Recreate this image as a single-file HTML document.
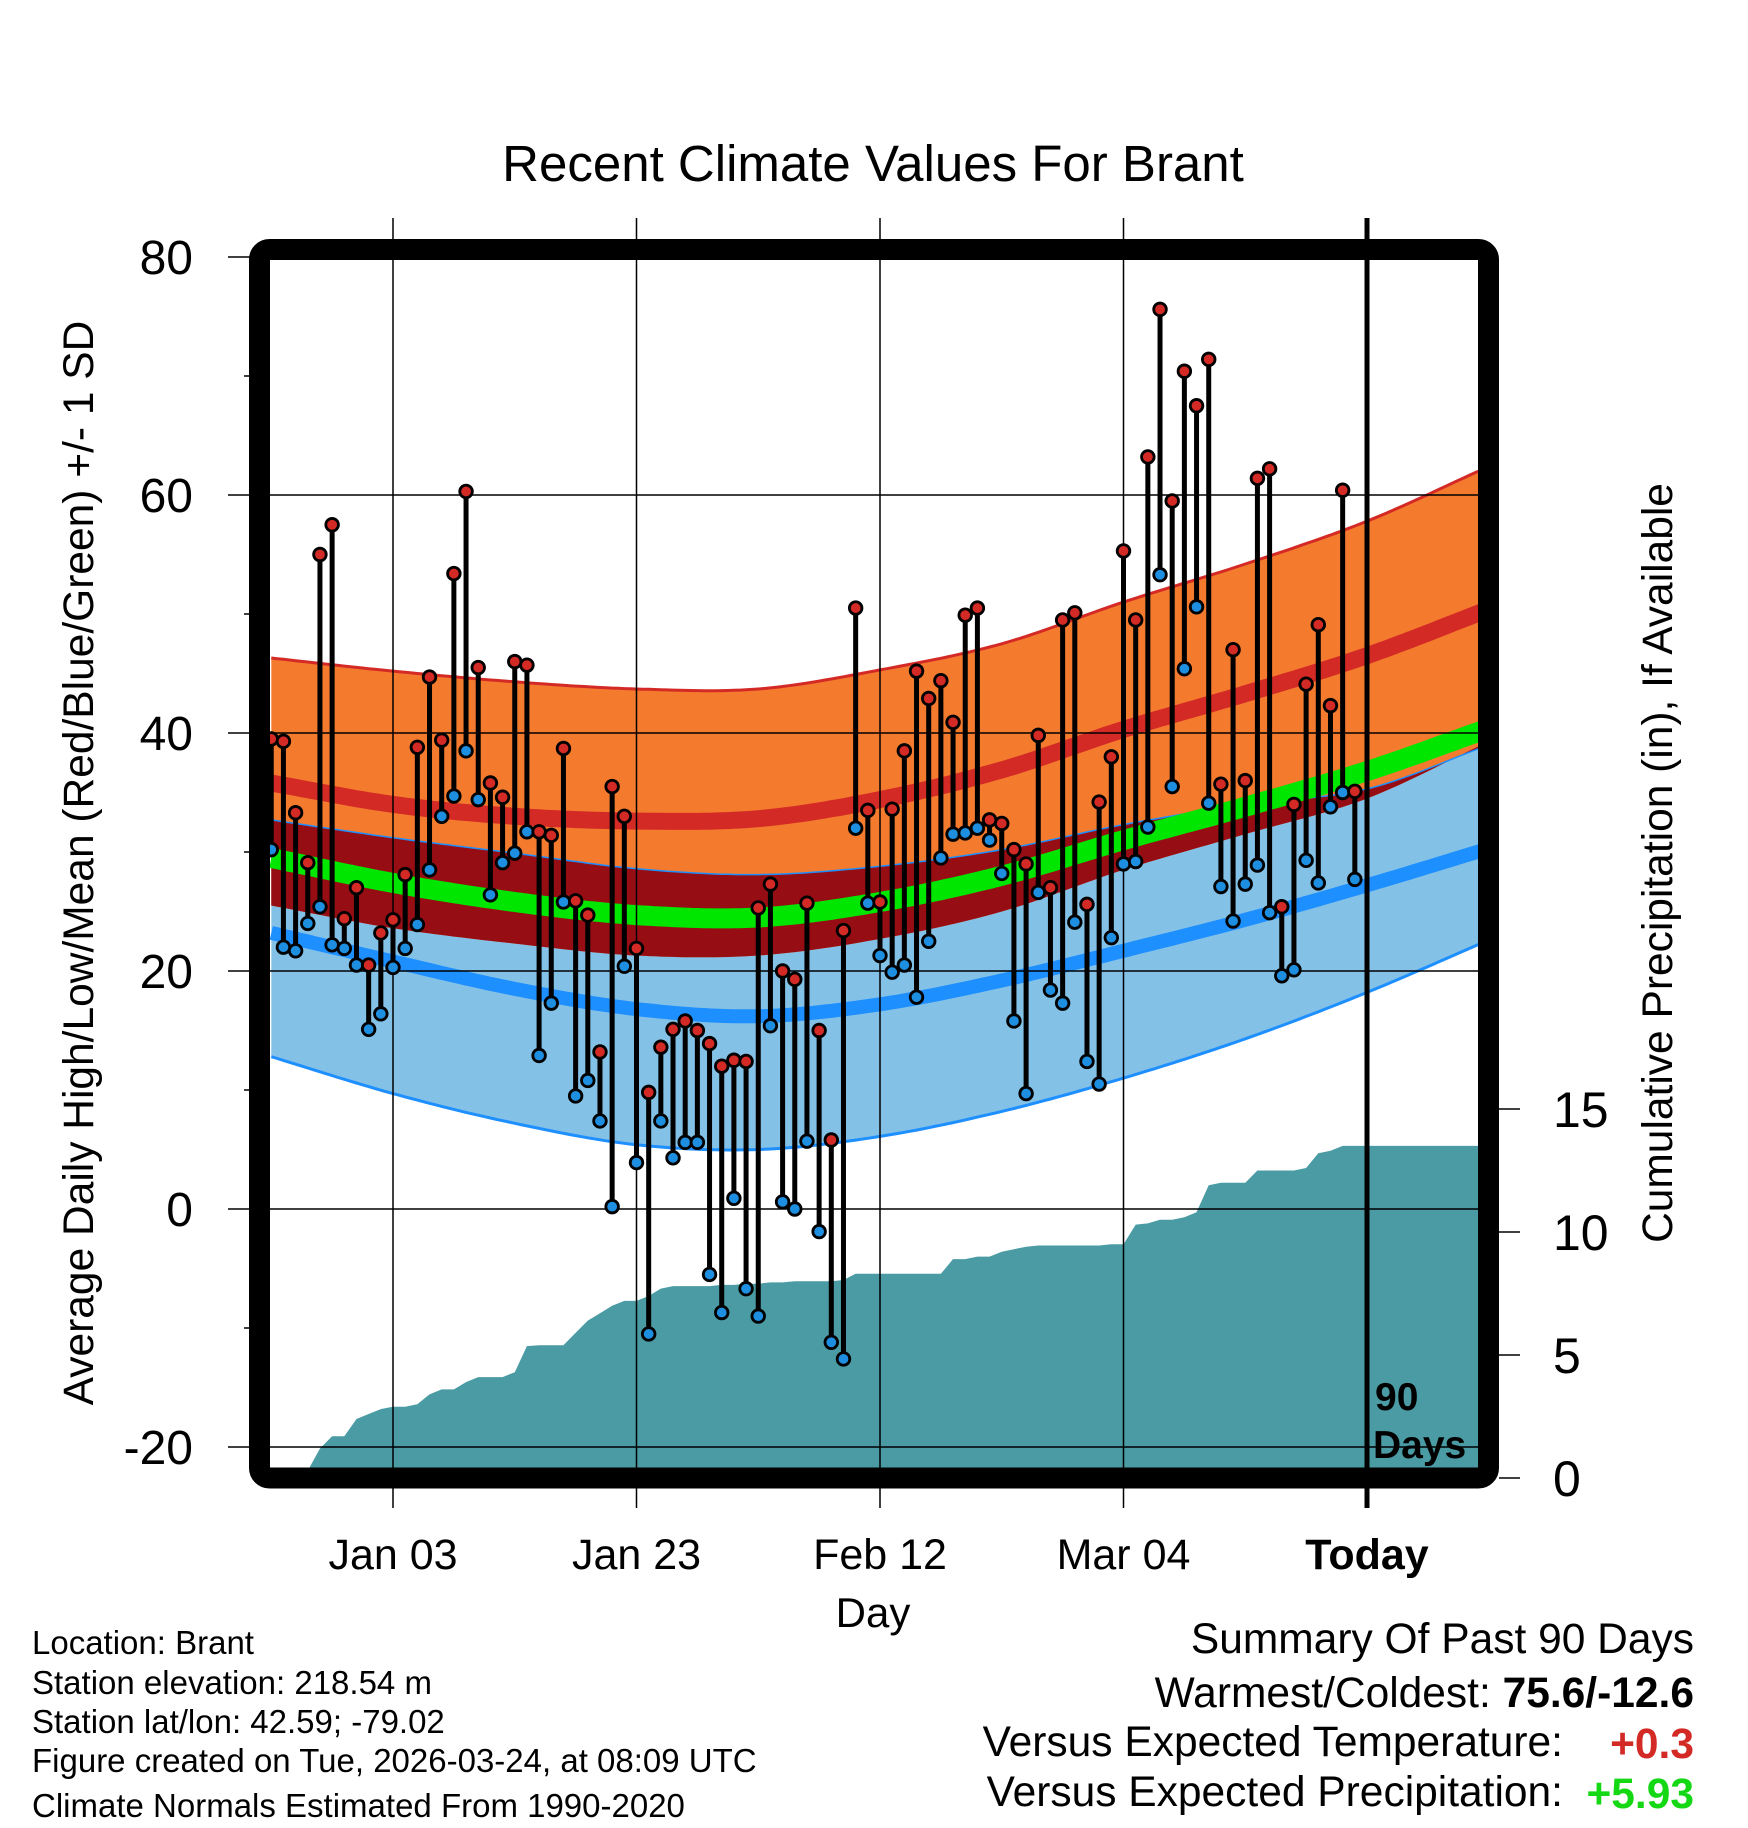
<!DOCTYPE html>
<html><head><meta charset="utf-8">
<style>
html,body{margin:0;padding:0;background:#fff;}
svg{display:block;font-family:"Liberation Sans",sans-serif;}
</style></head>
<body>
<svg id="chart" width="1748" height="1828" viewBox="0 0 1748 1828" xmlns="http://www.w3.org/2000/svg">
<text x="873" y="181" font-size="51" text-anchor="middle">Recent Climate Values For Brant</text>
<g id="plot"></g>
<text transform="translate(93,863) rotate(-90)" font-size="42.5" text-anchor="middle">Average Daily High/Low/Mean (Red/Blue/Green) +/- 1 SD</text>
<text transform="translate(1672,863) rotate(-90)" font-size="42.5" text-anchor="middle">Cumulative Precipitation (in), If Available</text>
<text x="873" y="1627" font-size="42" text-anchor="middle">Day</text>
<g font-size="33">
<text x="32" y="1654">Location: Brant</text>
<text x="32" y="1694">Station elevation: 218.54 m</text>
<text x="32" y="1733">Station lat/lon: 42.59; -79.02</text>
<text x="32" y="1772">Figure created on Tue, 2026-03-24, at 08:09 UTC</text>
<text x="32" y="1817">Climate Normals Estimated From 1990-2020</text>
</g>
<g font-size="42.5" text-anchor="end">
<text x="1694" y="1653">Summary Of Past 90 Days</text>
<text x="1694" y="1707">Warmest/Coldest: <tspan font-weight="bold">75.6/-12.6</tspan></text>
<text x="1563" y="1756">Versus Expected Temperature:</text>
<text x="1694" y="1758" font-weight="bold" fill="#d42a26">+0.3</text>
<text x="1563" y="1806">Versus Expected Precipitation:</text>
<text x="1694" y="1808" font-weight="bold" fill="#14d814">+5.93</text>
</g>
</svg>
<script>
// ---- data ----
const highs = [39.5,39.3,33.3,29.1,55,57.5,24.4,27,20.5,23.2,24.3,28.1,38.8,44.7,39.4,53.4,60.3,45.5,35.8,34.6,46,45.7,31.7,31.4,38.7,25.9,24.7,13.2,35.5,33,21.9,9.8,13.6,15.1,15.8,15,13.9,12,12.5,12.4,25.3,27.3,20,19.3,25.7,15,5.8,23.4,50.5,33.5,25.8,33.6,38.5,45.2,42.9,44.4,40.9,49.9,50.5,32.7,32.4,30.2,29,39.8,27,49.5,50.1,25.6,34.2,38,55.3,49.5,63.2,75.6,59.5,70.4,67.5,71.4,35.7,47,36,61.4,62.2,25.4,34,44.1,49.1,42.3,60.4,35.1];
const lows = [30.2,22,21.7,24,25.4,22.2,21.9,20.5,15.1,16.4,20.3,21.9,23.9,28.5,33,34.7,38.5,34.4,26.4,29.1,29.9,31.7,12.9,17.3,25.8,9.5,10.8,7.4,0.2,20.4,3.9,-10.5,7.4,4.3,5.6,5.6,-5.5,-8.7,0.9,-6.7,-9,15.4,0.6,0,5.7,-1.9,-11.2,-12.6,32,25.7,21.3,19.9,20.5,17.8,22.5,29.5,31.5,31.6,32,31,28.2,15.8,9.7,26.6,18.4,17.3,24.1,12.4,10.5,22.8,29,29.2,32.1,53.3,35.5,45.4,50.6,34.1,27.1,24.2,27.3,28.9,24.9,19.6,20.1,29.3,27.4,33.8,35,27.7];
const precip = [0,0,0.3,0.3,1.2,1.7,1.7,2.4,2.6,2.8,2.9,2.9,3.0,3.4,3.6,3.6,3.9,4.1,4.1,4.1,4.3,5.36,5.4,5.4,5.4,5.9,6.4,6.7,7.0,7.2,7.2,7.4,7.7,7.8,7.8,7.8,7.8,7.85,7.85,7.9,7.9,7.95,7.95,8.0,8.0,8.0,8.0,8.05,8.3,8.3,8.3,8.3,8.3,8.3,8.3,8.3,8.9,8.9,9.0,9.0,9.2,9.3,9.4,9.45,9.45,9.45,9.45,9.45,9.45,9.5,9.5,10.3,10.35,10.5,10.5,10.6,10.8,11.9,12.0,12.0,12.0,12.5,12.5,12.5,12.5,12.6,13.2,13.3,13.5,13.5];
const normDays = [-90,-80,-70,-60,-50,-40,-30,-20,-10,0,10];
const hiUpper = [46.3,45.2,44.3,43.7,43.7,45.3,47.5,51,54.2,57.8,62.4];
const hiMean  = [35.8,34.0,33.0,32.6,32.8,34.4,36.9,40.3,43.3,46.5,50.4];
const hiLower = [25.5,23.6,22.3,21.3,21.3,22.7,25,28.5,31.5,34.5,39.3];
const loUpper = [32.7,31.2,29.9,28.6,28.1,28.8,30.2,32.3,34.0,35.3,39.0];
const loMean  = [23.2,20.8,18.5,16.8,16.2,17.2,19.2,21.7,24.3,27.2,30.3];
const loLower = [12.8,9.7,7.2,5.4,5.0,6.1,8.2,11,14.3,18.2,22.6];
const avgMean = [29.5,27.4,25.8,24.7,24.5,25.8,28,31,33.8,36.8,40.4];
const yTicks = [80,60,40,20,0,-20];
const pTicks = [0,5,10,15];
const xTickDays = [-80,-60,-40,-20,0];
const xTickLabels = ["Jan 03","Jan 23","Feb 12","Mar 04","Today"];

// ---- scales ----
const X = d => 1367 + d*12.175;
const Y = t => 1209 - t*11.9;
const YP = p => 1478 - p*24.6;
const NS='http://www.w3.org/2000/svg';
const plot=document.getElementById('plot');
function mk(tag,attrs,parent){const e=document.createElementNS(NS,tag);for(const k in attrs)e.setAttribute(k,attrs[k]);(parent||plot).appendChild(e);return e;}
function interp(arr,d){
  const n=normDays.length;
  let i=0;while(i<n-2&&d>normDays[i+1])i++;
  const p1=arr[i],p2=arr[i+1];
  const p0=i>0?arr[i-1]:2*p1-p2;
  const p3=i+2<n?arr[i+2]:2*p2-p1;
  const t=(d-normDays[i])/(normDays[i+1]-normDays[i]);
  return 0.5*((2*p1)+(-p0+p2)*t+(2*p0-5*p1+4*p2-p3)*t*t+(-p0+3*p1-3*p2+p3)*t*t*t);
}
const samp=[];for(let d=-90;d<=9.5;d+=0.5)samp.push(d);
function line(arr){return samp.map(d=>X(d).toFixed(1)+','+Y(interp(arr,d)).toFixed(1)).join(' ');}
function band(a,b){return line(a)+' '+samp.slice().reverse().map(d=>X(d).toFixed(1)+','+Y(interp(b,d)).toFixed(1)).join(' ');}

const clip=mk('clipPath',{id:'pc'});mk('rect',{x:270,y:260,width:1208,height:1208},clip);
const g=mk('g',{'clip-path':'url(#pc)'});

let e;
e=mk('polygon',{points:band(loUpper,loLower),fill:'#84c1e7'},g);


e=mk('polygon',{points:band(hiUpper,hiLower),fill:'#f47b2e'},g);


e=mk('polygon',{points:band(loUpper,hiLower),fill:'#960e14'},g);


e=mk('polyline',{points:line(hiUpper),fill:'none',stroke:'#d42a26','stroke-width':3},g);


e=mk('polyline',{points:line(loLower),fill:'none',stroke:'#1e8fff','stroke-width':3},g);


e=mk('polyline',{points:line(loUpper),fill:'none',stroke:'#1e8fff','stroke-width':1.5},g);


e=mk('polyline',{points:line(hiMean),fill:'none',stroke:'#d42a26','stroke-width':17},g);


e=mk('polyline',{points:line(loMean),fill:'none',stroke:'#1e8fff','stroke-width':14},g);


e=mk('polyline',{points:line(avgMean),fill:'none',stroke:'#00e600','stroke-width':20},g);



// precip
let pts=[X(-90)+','+YP(0)];
precip.forEach((p,i)=>pts.push(X(i-90).toFixed(1)+','+YP(p).toFixed(1)));
pts.push(X(9.5)+','+YP(precip[precip.length-1]));pts.push(X(9.5)+','+YP(0));
e=mk('polygon',{points:pts.join(' '),fill:'#4a9ba4'},g);



// gridlines
yTicks.forEach(t=>{
  e=mk('line',{x1:228,x2:1478,y1:Y(t),y2:Y(t),stroke:'#000','stroke-width':1.5});
  
  
  e=mk('text',{x:193,y:Y(t)+17,'font-size':48,'text-anchor':'end'});e.textContent=t;
  
  
});
for(let t=70;t>-20;t-=20){e=mk('line',{x1:244,x2:260,y1:Y(t),y2:Y(t),stroke:'#000','stroke-width':1.5});
  
  }
xTickDays.forEach((d,i)=>{
  if(d!==0){e=mk('line',{x1:X(d),x2:X(d),y1:218,y2:1508,stroke:'#000','stroke-width':1.5});
  
  }
  e=mk('text',{x:X(d),y:1569,'font-size':43,'text-anchor':'middle'});e.textContent=xTickLabels[i];
  if(d===0)e.setAttribute('font-weight','bold');
  
  
});
pTicks.forEach(p=>{
  e=mk('line',{x1:1499,x2:1520,y1:YP(p),y2:YP(p),stroke:'#000','stroke-width':1.5});
  
  
  e=mk('text',{x:1553,y:YP(p)+18,'font-size':50});e.textContent=p;
  
  
});

// today line
e=mk('line',{x1:X(0),x2:X(0),y1:218,y2:1508,stroke:'#000','stroke-width':5});


e=mk('text',{x:1375,y:1410,'font-size':39,'font-weight':'bold'});e.textContent='90';


e=mk('text',{x:1373,y:1458,'font-size':39,'font-weight':'bold'});e.textContent='Days';



// stems & points
const pg=mk('g',{'clip-path':'url(#pc)'});
highs.forEach((h,i)=>{
  const x=X(i-90);
  e=mk('line',{x1:x,x2:x,y1:Y(h),y2:Y(lows[i]),stroke:'#000','stroke-width':5},pg);
  
  
});
highs.forEach((h,i)=>{
  const x=X(i-90);
  e=mk('circle',{cx:x,cy:Y(lows[i]),r:6.3,fill:'#1e8fe0',stroke:'#000','stroke-width':2.8},pg);
  
  
  e=mk('circle',{cx:x,cy:Y(h),r:6.3,fill:'#d42a26',stroke:'#000','stroke-width':2.8},pg);
  
  
});

// frame
e=mk('rect',{x:259.5,y:249.5,width:1229,height:1228.5,rx:10,fill:'none',stroke:'#000','stroke-width':21});


</script>
</body></html>
